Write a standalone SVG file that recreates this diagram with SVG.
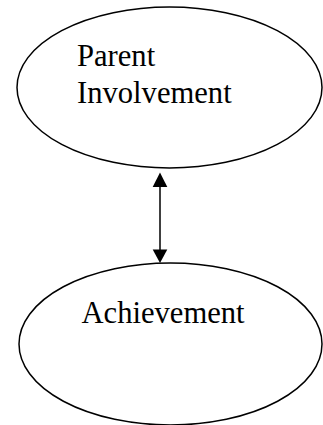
<svg xmlns="http://www.w3.org/2000/svg" width="323" height="425" viewBox="0 0 323 425">
<style>
.node{fill:#fff;stroke:#000;stroke-width:1.5}
.lbl{font-family:"Liberation Serif","Times New Roman",serif;font-size:30.6px;fill:#000}
.conn{stroke:#000;stroke-width:1.5;fill:none}
</style>
<rect width="323" height="425" fill="#fff"/>
<g id="parent-involvement">
<ellipse class="node" cx="169.5" cy="87.5" rx="152.5" ry="80.5"/>
<text class="lbl" x="77" y="66">Parent</text>
<text class="lbl" x="77" y="102.5">Involvement</text>
</g>
<g id="achievement">
<ellipse class="node" cx="170.5" cy="344" rx="151.5" ry="81"/>
<text class="lbl" x="81.5" y="323">Achievement</text>
</g>
<g id="connectors">
<line class="conn" x1="160" y1="185" x2="160" y2="251"/>
<polygon points="160,172.5 152.7,187 167.3,187" fill="#000"/>
<polygon points="160,263 152.7,249.5 167.3,249.5" fill="#000"/>
</g>
</svg>
